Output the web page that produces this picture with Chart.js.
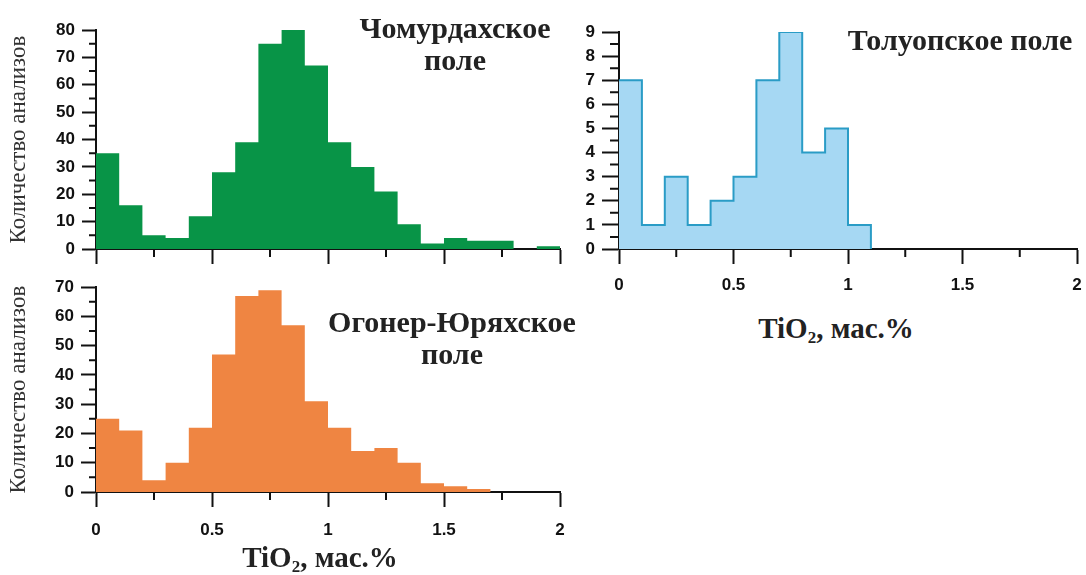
<!DOCTYPE html>
<html lang="ru">
<head>
<meta charset="utf-8">
<title>TiO2 histograms</title>
<script src="https://cdn.jsdelivr.net/npm/chart.js@4.4.1/dist/chart.umd.min.js"></script>
<style>
  body { margin: 0; background: #fff; }
  #page { position: relative; width: 1086px; height: 575px; overflow: hidden; }
  .box { position: absolute; }
  .label {
    position: absolute; font-family: 'Liberation Serif', 'Times New Roman', serif;
    font-weight: bold; font-size: 30px; color: #222; text-align: center;
    line-height: 32px; white-space: nowrap;
  }
  .label.axis { font-size: 29px; }
  .label sub { font-size: 17px; vertical-align: -5px; line-height: 0; }
</style>
</head>
<body>
<div id="page">
  <div class="box" style="left:0;top:0;width:580px;height:270px"><canvas id="chomurdakh"></canvas></div>
  <div class="box" style="left:0;top:270px;width:580px;height:305px"><canvas id="ogoner"></canvas></div>
  <div class="box" style="left:580px;top:0;width:520px;height:300px"><canvas id="toluop"></canvas></div>

  <div class="label" style="left:330px;top:12px;width:250px">Чомурдахское<br>поле</div>
  <div class="label" style="left:302px;top:306px;width:300px">Огонер-Юряхское<br>поле</div>
  <div class="label" style="left:827px;top:24px;width:266px">Толуопское поле</div>
  <div class="label axis" style="left:220px;top:541px;width:200px">TiO<sub>2</sub>, мас.%</div>
  <div class="label axis" style="left:736px;top:312px;width:200px">TiO<sub>2</sub>, мас.%</div>
</div>
<script>
// bins of 0.1 mass.% TiO2
const binStarts = [0, 0.1, 0.2, 0.3, 0.4, 0.5, 0.6, 0.7, 0.8, 0.9,
                   1.0, 1.1, 1.2, 1.3, 1.4, 1.5, 1.6, 1.7, 1.8, 1.9];
const binWidth = 0.1;

const chomurdakhCounts = [35, 16, 5, 4, 12, 28, 39, 75, 80, 67, 39, 30, 21, 9, 2, 4, 3, 3, 0, 1];
const ogonerCounts = [25, 21, 4, 10, 22, 47, 67, 69, 57, 31, 22, 14, 15, 10, 3, 2, 1, 0, 0, 0];
const toluopCounts = [7, 1, 3, 1, 2, 3, 7, 9, 4, 5, 1];

const axisColor = '#111';
const tickFont = { family: "'Liberation Sans', Arial, sans-serif", size: 17, weight: 'bold' };

// short ticks between the labelled ones
const minorTicks = {
  id: 'minorTicks',
  afterDraw(chart, args, opts) {
    const { ctx, chartArea, scales } = chart;
    ctx.save();
    ctx.strokeStyle = axisColor;
    ctx.lineWidth = 2;
    ctx.beginPath();
    for (let i = 1; i * opts.xStep < scales.x.max; i += 2) {
      const px = scales.x.getPixelForValue(i * opts.xStep);
      ctx.moveTo(px, chartArea.bottom);
      ctx.lineTo(px, chartArea.bottom + opts.xLen);
    }
    for (let i = 1; i * opts.yStep < scales.y.max; i += 2) {
      const py = scales.y.getPixelForValue(i * opts.yStep);
      ctx.moveTo(chartArea.left - opts.yLen, py);
      ctx.lineTo(chartArea.left, py);
    }
    ctx.stroke();
    ctx.restore();
  }
};

function makeHistogram(id, counts, cfg) {
  const points = counts.map((c, i) => ({ x: binStarts[i], y: c }));
  points.push({ x: binStarts[counts.length - 1] + binWidth, y: 0 });

  return new Chart(document.getElementById(id), {
    type: 'line',
    data: {
      datasets: [{
        data: points,
        stepped: 'before',
        fill: 'origin',
        backgroundColor: cfg.fill,
        borderColor: cfg.line || 'rgba(0,0,0,0)',
        borderWidth: cfg.lineWidth || 0,
        pointRadius: 0,
        pointHoverRadius: 0,
      }],
    },
    options: {
      responsive: true, maintainAspectRatio: false, animation: false,
      layout: { padding: cfg.padding },
      plugins: {
        legend: { display: false },
        tooltip: { enabled: false },
        minorTicks: { xStep: 0.25, xLen: 8, yStep: cfg.yStep / 2, yLen: cfg.yMinorLen },
      },
      scales: {
        x: {
          type: 'linear', min: 0, max: 2, z: 1,
          border: { color: axisColor, width: 2 },
          grid: { drawOnChartArea: false, tickLength: 15, tickWidth: 2, tickColor: axisColor },
          ticks: {
            stepSize: 0.5, padding: cfg.xPad, font: tickFont, color: axisColor,
            display: cfg.xLabels, maxRotation: 0, callback: v => String(v),
          },
          afterFit: s => { s.height = cfg.xHeight; },
        },
        y: {
          type: 'linear', min: 0, max: cfg.yMax, z: 1,
          border: { color: axisColor, width: 2 },
          grid: { drawOnChartArea: false, tickLength: cfg.yTickLen, tickWidth: 2, tickColor: axisColor },
          ticks: { stepSize: cfg.yStep, padding: 7, font: tickFont, color: axisColor },
          title: {
            display: !!cfg.yTitle, text: cfg.yTitle || '', color: '#333',
            font: { family: "'Liberation Serif', 'Times New Roman', serif", size: 23 },
            padding: { top: 5, bottom: 0 },
          },
          afterFit: s => { s.width = cfg.yWidth; },
        },
      },
    },
    plugins: [minorTicks],
  });
}

makeHistogram('chomurdakh', chomurdakhCounts, {
  fill: '#089447', yMax: 80, yStep: 10, yTickLen: 14, yMinorLen: 7,
  yTitle: 'Количество анализов', yWidth: 96,
  xLabels: false, xPad: 10, xHeight: 21,
  padding: { top: 30, right: 20, bottom: 0, left: 0 },
});

makeHistogram('ogoner', ogonerCounts, {
  fill: '#ef8542', yMax: 70, yStep: 10, yTickLen: 15, yMinorLen: 7,
  yTitle: 'Количество анализов', yWidth: 96,
  xLabels: true, xPad: 13, xHeight: 83,
  padding: { top: 15, right: 20, bottom: 0, left: 0 },
});

makeHistogram('toluop', toluopCounts, {
  fill: '#a6d8f3', line: '#2a9cc6', lineWidth: 2,
  yMax: 9, yStep: 1, yTickLen: 17, yMinorLen: 9,
  yWidth: 39,
  xLabels: true, xPad: 11, xHeight: 51,
  padding: { top: 32, right: 23, bottom: 0, left: 0 },
});
</script>
</body>
</html>
